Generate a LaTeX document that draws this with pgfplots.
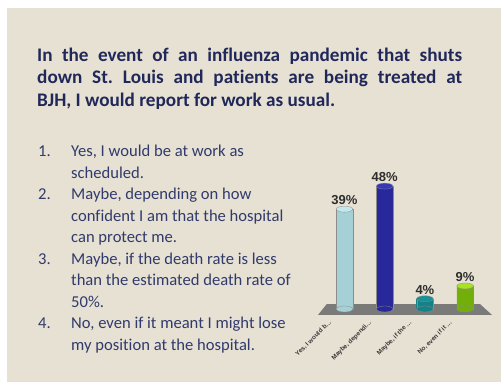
\documentclass[border=0pt]{standalone}
\usepackage{pgfplots}
\pgfplotsset{compat=1.18}
\usepackage{fontspec}
\setmainfont{Carlito}[Ligatures=NoCommon]
\newfontfamily\barfont{Liberation Sans}

\definecolor{bg}{RGB}{231,225,211}
\definecolor{titleblue}{RGB}{32,40,90}
\definecolor{listblue}{RGB}{48,58,108}
\definecolor{floorgray}{RGB}{122,122,120}
\definecolor{labelgray}{RGB}{45,45,45}
% cylinder colours: body, edge, cap
\definecolor{cA}{RGB}{208,240,242}\definecolor{cAd}{RGB}{165,208,214}\definecolor{cAt}{RGB}{195,232,235}
\definecolor{cB}{RGB}{68,68,205}\definecolor{cBd}{RGB}{40,40,155}\definecolor{cBt}{RGB}{55,55,185}
\definecolor{cC}{RGB}{38,178,180}\definecolor{cCd}{RGB}{20,130,135}\definecolor{cCt}{RGB}{25,145,150}
\definecolor{cD}{RGB}{160,222,28}\definecolor{cDd}{RGB}{115,175,10}\definecolor{cDt}{RGB}{168,226,32}

% elliptic cap of a cylinder
\pgfdeclareplotmark{cylcap}{%
  \pgfpathellipse{\pgfpointorigin}{\pgfpoint{8.25pt}{0pt}}{\pgfpoint{0pt}{3pt}}%
  \pgfusepathqfillstroke}

\begin{document}
\begin{tikzpicture}
\useasboundingbox (0pt,0pt) rectangle (501pt,382pt);
\fill[white] (0pt,0pt) rectangle (501pt,382pt);
\fill[bg] (7pt,0pt) rectangle (501pt,374pt);

% question
\begin{scope}[every node/.style={anchor=base west, inner sep=0pt, text=titleblue,
    font=\fontsize{19.2}{22}\selectfont\bfseries}]
\node at (37pt,320.5pt) {\makebox[425pt][s]{In the event of an influenza pandemic that shuts}};
\node at (37pt,298pt)   {\makebox[425pt][s]{down St.\ Louis and patients are being treated at}};
\node at (37pt,275.5pt) {BJH, I would report for work as usual.};
\end{scope}

% answer options
\begin{scope}[every node/.style={anchor=base west, inner sep=0pt, text=listblue,
    font=\fontsize{16.6}{20}\selectfont}]
\node at (38pt,225pt)   {1.};
\node at (71pt,225pt)   {Yes, I would be at work as};
\node at (71pt,203.5pt) {scheduled.};
\node at (38pt,182pt)   {2.};
\node at (71pt,182pt)   {Maybe, depending on how};
\node at (71pt,160.5pt) {confident I am that the hospital};
\node at (71pt,139pt)   {can protect me.};
\node at (38pt,117.5pt) {3.};
\node at (71pt,117.5pt) {Maybe, if the death rate is less};
\node at (71pt,96pt)    {than the estimated death rate of};
\node at (71pt,74.5pt)  {50\%.};
\node at (38pt,53pt)    {4.};
\node at (71pt,53pt)    {No, even if it meant I might lose};
\node at (71pt,31.5pt)  {my position at the hospital.};
\end{scope}

\begin{axis}[
  at={(312.34pt,73pt)}, anchor=south west,
  x=40.2pt, y=2.56pt,
  xmin=-0.8, xmax=3.8, ymin=0, ymax=50,
  clip=false,
  axis line style={draw=none},
  major tick length=0pt,
  ytick=\empty,
  xtick={0,1,2,3},
  xticklabels={{Yes, I would b…},{Maybe, dependi…},{Maybe, if the …},{No, even if it …}},
  xticklabel style={font=\barfont\bfseries\fontsize{6.3}{7}\selectfont, text=black!78,
    xshift=-16pt, yshift=-5.5pt, rotate=45, anchor=north east},
  /pgf/number format/assume math mode=true,
  every node near coord/.style={font=\barfont\bfseries\fontsize{13}{15}\selectfont,
    text=labelgray, anchor=south, yshift=1pt},
]
% floor
\addplot[fill=floorgray, draw=none] coordinates {(-0.66,-2.34) (3.67,-2.34) (3.37,1.95) (-0.44,1.95)} -- cycle;

% bottom caps
\addplot[only marks, mark=cylcap, mark options={fill=cAd, draw=black!45, line width=0.3pt}] coordinates {(0,0)};
\addplot[only marks, mark=cylcap, mark options={fill=cBd, draw=black!45, line width=0.3pt}] coordinates {(1,0)};
\addplot[only marks, mark=cylcap, mark options={fill=cCd, draw=black!45, line width=0.3pt}] coordinates {(2,0)};
\addplot[only marks, mark=cylcap, mark options={fill=cDd, draw=black!45, line width=0.3pt}] coordinates {(3,0)};

% bodies
\addplot[ybar, bar width=16.5pt, bar shift=0pt, draw=black!45, line width=0.3pt,
  left color=cAd, middle color=cA, right color=cAd] coordinates {(0,39)};
\addplot[ybar, bar width=16.5pt, bar shift=0pt, draw=black!45, line width=0.3pt,
  left color=cBd, middle color=cB, right color=cBd] coordinates {(1,48)};
\addplot[ybar, bar width=16.5pt, bar shift=0pt, draw=black!45, line width=0.3pt,
  left color=cCd, middle color=cC, right color=cCd] coordinates {(2,4)};
\addplot[ybar, bar width=16.5pt, bar shift=0pt, draw=black!45, line width=0.3pt,
  left color=cDd, middle color=cD, right color=cDd] coordinates {(3,9)};

% top caps with the values
\addplot[only marks, mark=cylcap, mark options={fill=cAt, draw=black!45, line width=0.3pt},
  nodes near coords={\pgfmathprintnumber{\pgfplotspointmeta}\%}] coordinates {(0,39)};
\addplot[only marks, mark=cylcap, mark options={fill=cBt, draw=black!45, line width=0.3pt},
  nodes near coords={\pgfmathprintnumber{\pgfplotspointmeta}\%}] coordinates {(1,48)};
\addplot[only marks, mark=cylcap, mark options={fill=cCt, draw=black!45, line width=0.3pt},
  nodes near coords={\pgfmathprintnumber{\pgfplotspointmeta}\%}] coordinates {(2,4)};
\addplot[only marks, mark=cylcap, mark options={fill=cDt, draw=black!45, line width=0.3pt},
  nodes near coords={\pgfmathprintnumber{\pgfplotspointmeta}\%}] coordinates {(3,9)};
\end{axis}
\end{tikzpicture}
\end{document}
